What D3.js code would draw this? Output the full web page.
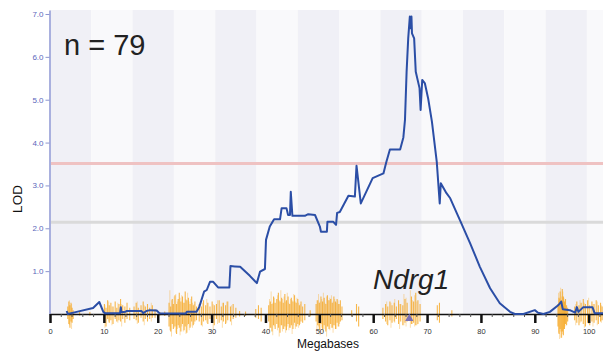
<!DOCTYPE html>
<html>
<head>
<meta charset="utf-8">
<script src="https://cdn.jsdelivr.net/npm/d3@7"></script>
<style>
  html, body { margin: 0; padding: 0; background: #ffffff; }
  svg { display: block; }
</style>
</head>
<body>
<svg id="chart" width="603" height="356"></svg>
<script>
// ---------------- DATA ----------------
const lodMb = [3.1,3.3,4.95,8.0,9.15,9.9,10.2,13.0,13.15,13.25,14.0,14.2,17.0,17.3,17.9,18.6,19.8,20.3,25.2,25.4,27.2,27.7,28.6,29.1,29.7,30.3,31.2,33.3,33.5,34.3,35.3,37.1,38.4,39.0,39.9,40.1,40.8,41.6,42.7,43.0,43.9,44.2,44.55,44.7,45.0,47.3,47.95,49.2,50.1,50.3,51.4,51.5,52.6,53.1,53.3,53.8,55.4,56.6,56.9,57.7,59.9,61.9,62.4,63.1,65.0,65.6,65.9,66.2,66.5,66.8,66.95,67.1,67.2,67.6,67.9,68.6,68.8,69.1,69.6,70.2,70.9,71.8,72.35,72.55,73.6,74.3,75.6,76.1,78.0,79.8,81.7,83.5,85.4,86.3,87.9,90.0,90.6,91.6,92.8,94.4,94.9,95.2,96.5,97.5,97.8,98.1,99.0,100.7,101.1,102.7];
const lodValues = [0.07,0.0,0.05,0.14,0.28,0.05,0.02,0.02,0.16,0.04,0.05,0.07,0.07,0.02,0.07,0.09,0.08,0.02,0.01,0.05,0.05,0.16,0.52,0.56,0.75,0.75,0.62,0.62,1.12,1.11,1.10,0.89,0.72,0.99,1.05,1.73,2.04,2.21,2.21,2.47,2.47,2.31,2.31,2.85,2.29,2.29,2.33,2.31,2.04,1.92,1.92,2.15,2.15,2.08,2.36,2.38,2.76,2.74,3.46,2.58,3.17,3.28,3.53,3.84,3.84,4.12,4.53,5.65,6.43,6.94,6.67,6.94,6.55,6.43,5.65,5.27,4.76,5.46,5.38,5.03,4.49,3.55,2.58,3.05,2.82,2.70,2.33,2.19,1.65,1.10,0.60,0.25,0.05,0.0,0.0,0.09,0.03,0.0,0.05,0.21,0.29,0.11,0.09,0.03,0.16,0.05,0.16,0.16,0.02,0.02];

const yTickValues = [1,2,3,4,5,6,7];
const xMajorTicks = [0,10,20,30,40,50,60,70,80,90,100];
const xMinorTicks = [2,4,6,8,12,14,16,18,22,24,26,28,32,34,36,38,42,44,46,48,52,54,56,58,62,64,66,68,72,74,76,78,82,84,86,88,92,94,96,98,102];

const thresholds = [3.51, 2.14];
const sampleLabel = "n = 79";
const geneName = "Ndrg1";
const geneMb = 66.7;

// marker (variant) ticks: position (Mb), upward and downward magnitude (0..1)
const markerMb = [3.3,3.5,3.7,3.9,4.1,4.3,5.5,7.4,
  10.1,10.4,10.7,11.0,11.3,11.7,12.1,12.4,12.8,13.1,13.5,13.9,14.3,14.8,
  15.6,16.0,16.4,16.9,17.3,17.7,18.1,18.5,19.0,19.5,20.4,21.3,
  22.1,22.4,22.7,22.9,23.2,23.5,23.8,24.0,24.3,24.6,24.9,25.1,25.4,25.7,26.0,26.3,26.6,26.9,27.2,
  27.7,28.1,28.5,28.9,29.3,29.7,30.1,30.5,30.9,31.4,31.8,32.2,32.6,33.0,33.5,34.0,34.5,35.2,36.3,
  38.2,38.7,39.2,
  40.6,40.9,41.2,41.5,41.8,42.1,42.4,42.7,43.0,43.3,43.6,43.9,44.2,44.5,44.8,45.1,45.4,45.7,46.0,46.3,46.6,46.9,47.3,
  48.3,49.4,49.7,50.0,50.3,50.6,50.9,51.2,51.5,51.8,52.1,52.4,52.7,53.0,53.3,53.6,53.9,54.2,
  56.0,56.9,57.3,
  61.8,62.3,62.7,63.1,63.5,63.9,64.3,64.7,65.1,65.5,65.9,66.3,67.1,67.5,67.9,68.3,68.7,
  71.9,72.3,74.6,
  94.3,94.5,94.7,94.9,95.1,95.3,95.5,95.7,95.9,96.1,
  97.4,97.8,98.2,98.6,99.0,99.4,99.8,100.2,100.6,101.0,101.4,101.8,102.2,102.5];
const markerUp = [.30,.50,.35,.45,.25,.15,.08,.08,
  .40,.25,.55,.35,.45,.30,.50,.25,.40,.60,.35,.30,.45,.25,
  .30,.45,.25,.35,.50,.30,.40,.25,.35,.20,.08,.10,
  .45,.30,.60,.40,.75,.40,.60,.85,.50,.70,.45,.90,.55,.65,.40,.70,.35,.50,.30,
  .40,.30,.55,.35,.45,.30,.50,.35,.40,.55,.30,.45,.35,.50,.30,.40,.25,.12,.10,
  .20,.35,.25,
  .35,.50,.40,.70,.45,.60,.85,.50,.65,.45,.80,.55,.70,.40,.65,.50,.75,.45,.60,.35,.50,.30,.40,
  .15,.40,.55,.45,.70,.50,.65,.40,.75,.55,.60,.45,.70,.50,.60,.40,.55,.30,
  .15,.40,.30,
  .25,.40,.30,.50,.35,.45,.30,.55,.40,.35,.60,.45,.70,.50,.85,.55,.40,
  .35,.45,.15,
  .40,.65,.90,.55,1.0,.70,.50,.60,.35,.25,
  .30,.50,.35,.45,.60,.40,.55,.35,.50,.40,.55,.35,.45,.30];
const markerDown = [.20,.40,.55,.30,.35,.20,.06,.06,
  .30,.50,.20,.35,.25,.40,.20,.30,.25,.30,.20,.35,.20,.25,
  .20,.25,.35,.15,.30,.20,.30,.20,.15,.15,.06,.08,
  .50,.70,.40,.60,.50,.80,.45,.55,.70,.40,.65,.50,.75,.40,.55,.30,.45,.30,.25,
  .30,.45,.30,.25,.40,.20,.30,.45,.20,.35,.25,.30,.40,.25,.30,.20,.15,.10,.08,
  .15,.20,.30,
  .30,.55,.70,.45,.60,.40,.55,.75,.45,.60,.50,.65,.40,.55,.45,.60,.35,.50,.40,.45,.30,.35,.25,
  .10,.30,.45,.65,.40,.60,.45,.70,.50,.60,.40,.55,.45,.60,.35,.50,.30,.25,
  .10,.30,.50,
  .20,.30,.45,.25,.35,.30,.20,.40,.30,.45,.35,.30,.40,.35,.45,.40,.30,
  .25,.35,.10,
  .50,.80,.60,.95,.70,.85,.60,.40,.45,.30,
  .25,.35,.45,.30,.40,.50,.35,.45,.30,.35,.25,.40,.30,.25];

// fainter secondary marker ticks
const faintMb = [3.6,4.0,
  10.2,10.9,11.5,12.6,13.3,
  16.2,17.5,18.8,
  22.25,22.55,23.05,23.35,23.65,24.15,24.45,24.75,25.25,25.55,25.85,26.15,26.45,26.75,
  28.3,29.1,30.3,31.1,32.0,32.8,33.7,
  40.75,41.05,41.35,41.65,42.25,42.55,42.85,43.15,43.45,43.75,44.05,44.35,44.65,44.95,45.25,45.55,45.85,46.15,46.45,
  49.55,49.85,50.15,50.45,50.75,51.05,51.35,51.65,51.95,52.25,52.55,52.85,53.15,53.45,53.75,
  62.5,63.3,64.0,64.9,65.7,66.1,66.9,67.3,67.7,68.1,
  94.4,94.6,94.8,95.0,95.2,95.4,95.6,
  97.6,98.4,99.2,100.0,100.8,101.6,102.35];
const faintUp = [.55,.40,
  .35,.50,.30,.45,.40,
  .50,.35,.45,
  .95,.55,.70,.80,.50,.65,.75,.45,.60,.85,.50,.60,.45,.40,
  .45,.60,.40,.55,.45,.50,.35,
  .60,.90,.45,.65,.75,.55,.95,.60,.70,.50,.85,.45,.60,.55,.80,.50,.65,.45,.40,
  .55,.80,.50,.60,.85,.45,.70,.55,.65,.75,.50,.60,.45,.55,.40,
  .50,.45,.60,.40,.80,.65,.95,.55,.75,.50,
  .85,.60,1.05,.70,.90,.65,.55,
  .40,.55,.45,.65,.40,.50,.35];
const faintDown = [.45,.60,
  .55,.30,.45,.35,.50,
  .40,.45,.30,
  .65,.90,.55,.75,.60,.85,.50,.70,.80,.45,.65,.50,.55,.40,
  .50,.35,.60,.40,.55,.35,.45,
  .70,.55,.85,.50,.65,.90,.45,.70,.60,.75,.50,.65,.55,.80,.45,.60,.50,.55,.40,
  .60,.50,.85,.55,.70,.60,.90,.50,.65,.55,.75,.45,.60,.50,.40,
  .40,.55,.35,.60,.45,.50,.55,.40,.50,.45,
  .75,1.0,.70,.95,.80,.60,.50,
  .45,.35,.55,.40,.50,.45,.35];

// ---------------- CHART ----------------
const svg = d3.select("#chart");
const x = d3.scaleLinear().domain([0, 102.66]).range([50, 603]);
const y = d3.scaleLinear().domain([0, 7.093]).range([314, 10]);
const tickLen = d3.scaleLinear().domain([0, 1]).range([0, 25]);

// alternating background bands
const bandWidthMb = 7.667;
const bandStarts = d3.range(0, 102.66, bandWidthMb);
svg.append("g").selectAll("rect").data(bandStarts).join("rect")
  .attr("x", d => x(d))
  .attr("y", y(7.093))
  .attr("width", d => x(Math.min(d + bandWidthMb, 102.66)) - x(d))
  .attr("height", y(0) - y(7.093))
  .attr("fill", (d, i) => i % 2 === 0 ? "#f0f0f6" : "#f9f9fb");

// threshold lines
svg.append("g").selectAll("line").data(thresholds).join("line")
  .attr("x1", x(0)).attr("x2", x(102.66))
  .attr("y1", d => y(d)).attr("y2", d => y(d))
  .attr("stroke", (d, i) => i === 0 ? "#efc2c2" : "#dadada")
  .attr("stroke-width", 3);

// faint marker ticks
svg.append("g").selectAll("line").data(faintMb).join("line")
  .attr("x1", d => x(d)).attr("x2", d => x(d))
  .attr("y1", (d, i) => y(0) - tickLen(faintUp[i]))
  .attr("y2", (d, i) => y(0) + tickLen(faintDown[i]))
  .attr("stroke", "#f8b548")
  .attr("stroke-opacity", 0.45)
  .attr("stroke-width", 1);

// marker ticks
svg.append("g").selectAll("line").data(markerMb).join("line")
  .attr("x1", d => x(d)).attr("x2", d => x(d))
  .attr("y1", (d, i) => y(0) - tickLen(markerUp[i]))
  .attr("y2", (d, i) => y(0) + tickLen(markerDown[i]))
  .attr("stroke", "#f5a010")
  .attr("stroke-opacity", 0.75)
  .attr("stroke-width", 1.1);

// y axis
const yAxis = svg.append("g").attr("transform", "translate(49.5,0)")
  .call(d3.axisLeft(y).tickValues(yTickValues).tickFormat(d3.format(".1f")).tickSize(4).tickPadding(2).tickSizeOuter(0));
yAxis.select(".domain").attr("stroke", "#a9b0de").attr("stroke-width", 2);
yAxis.selectAll(".tick line").attr("stroke", "#8c95d0");
yAxis.selectAll(".tick text").attr("fill", "#5a66bb")
  .style("font-family", "Liberation Sans, Arial, sans-serif").style("font-size", "8px");

// x axis
const xAxis = svg.append("g").attr("transform", "translate(0,314)")
  .call(d3.axisBottom(x).tickValues(xMajorTicks).tickFormat(d3.format("d")).tickSize(9).tickPadding(6).tickSizeOuter(0));
xAxis.select(".domain").attr("stroke", "#111").attr("stroke-width", 1.3);
xAxis.selectAll(".tick line").attr("stroke", "#111").attr("stroke-width", 2.5);
xAxis.selectAll(".tick text").attr("fill", "#333")
  .style("font-family", "Liberation Sans, Arial, sans-serif").style("font-size", "7.5px");
const xMinor = svg.append("g").attr("transform", "translate(0,314)")
  .call(d3.axisBottom(x).tickValues(xMinorTicks).tickFormat("").tickSize(3).tickSizeOuter(0));
xMinor.select(".domain").remove();
xMinor.selectAll(".tick line").attr("stroke", "#555");

// gene marker triangle
svg.append("path")
  .attr("d", d3.symbol().type(d3.symbolTriangle).size(30)())
  .attr("transform", `translate(${x(geneMb)},318.5)`)
  .attr("fill", "#7b70b4");

// LOD curve
const line = d3.line().x((d, i) => x(lodMb[i])).y(d => y(d));
svg.append("path")
  .datum(lodValues)
  .attr("d", line)
  .attr("fill", "none")
  .attr("stroke", "#2b4ea6")
  .attr("stroke-width", 2)
  .attr("stroke-linejoin", "round");

// texts
svg.append("text").text(sampleLabel)
  .attr("x", 64).attr("y", 55)
  .style("font-family", "Liberation Sans, Arial, sans-serif").style("font-size", "29px")
  .attr("fill", "#222");
svg.append("text").text(geneName)
  .attr("x", 373).attr("y", 289)
  .style("font-family", "Liberation Sans, Arial, sans-serif").style("font-size", "28px")
  .style("font-style", "italic")
  .attr("fill", "#222");
svg.append("text").text("Megabases")
  .attr("x", 328).attr("y", 348).attr("text-anchor", "middle")
  .style("font-family", "Liberation Sans, Arial, sans-serif").style("font-size", "12px")
  .attr("fill", "#111");
svg.append("text").text("LOD")
  .attr("transform", "translate(22,199) rotate(-90)").attr("text-anchor", "middle")
  .style("font-family", "Liberation Sans, Arial, sans-serif").style("font-size", "13.5px")
  .attr("fill", "#111");
</script>
</body>
</html>
